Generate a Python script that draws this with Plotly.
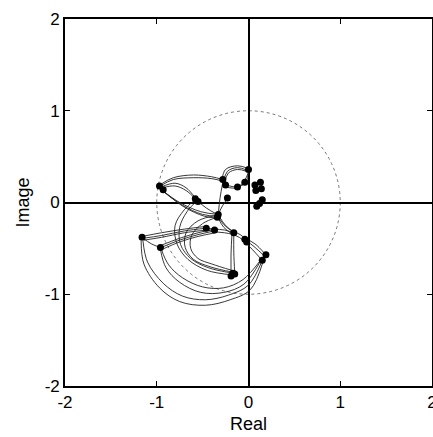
import plotly.graph_objects as go

# ---- data (real, imaginary parts) ----
curves = {
    "A1": [(-0.97, 0.19), (-0.82, 0.27), (-0.6, 0.30), (-0.4, 0.28), (-0.28, 0.25)],
    "A2": [(-0.96, 0.18), (-0.82, 0.25), (-0.6, 0.27), (-0.4, 0.26), (-0.27, 0.23)],
    "A3": [(-0.95, 0.17), (-0.8, 0.21), (-0.68, 0.16), (-0.58, 0.05)],
    "A4": [(-0.94, 0.16), (-0.8, 0.18), (-0.68, 0.13), (-0.57, 0.03)],
    "B1": [(-0.95, 0.14), (-0.75, 0.0), (-0.52, -0.10), (-0.33, -0.13)],
    "B2": [(-0.93, 0.12), (-0.72, -0.03), (-0.5, -0.13), (-0.33, -0.15)],
    "B3": [(-0.91, 0.11), (-0.7, -0.05), (-0.48, -0.15), (-0.34, -0.17)],
    "B4": [(-0.57, 0.03), (-0.46, -0.06), (-0.34, -0.13)],
    "C1": [(-0.29, 0.24), (-0.25, 0.36), (-0.12, 0.40), (0.0, 0.37)],
    "C2": [(-0.27, 0.23), (-0.23, 0.34), (-0.12, 0.38), (-0.01, 0.35)],
    "C3": [(-0.26, 0.21), (-0.22, 0.32), (-0.12, 0.36), (-0.02, 0.34)],
    "C4": [(0.0, 0.36), (-0.03, 0.22), (-0.12, 0.17), (-0.24, 0.19)],
    "C5": [(0.01, 0.35), (-0.05, 0.23), (-0.13, 0.16), (-0.25, 0.17)],
    "D1": [(0.08, 0.13), (0.14, 0.15), (0.13, 0.22), (0.07, 0.20), (0.08, 0.13)],
    "E1": [(0.15, 0.03), (0.12, -0.01), (0.09, -0.04)],
    "F1": [(-0.28, 0.22), (-0.31, 0.05), (-0.33, -0.13)],
    "F2": [(-0.33, -0.13), (-0.28, -0.03), (-0.23, 0.04)],
    "G1": [(-0.34, -0.14), (-0.27, -0.24), (-0.17, -0.32)],
    "G2": [(-0.32, -0.15), (-0.25, -0.25), (-0.15, -0.33)],
    "G3": [(-0.33, -0.17), (-0.27, -0.27), (-0.17, -0.35)],
    "H1": [(-1.16, -0.37), (-0.95, -0.33), (-0.7, -0.29), (-0.46, -0.26)],
    "H2": [(-1.15, -0.39), (-0.95, -0.36), (-0.7, -0.31), (-0.46, -0.28)],
    "H3": [(-1.14, -0.41), (-0.95, -0.38), (-0.7, -0.33), (-0.45, -0.30)],
    "H4": [(-1.16, -0.38), (-1.06, -0.45), (-0.96, -0.49)],
    "I1": [(-0.96, -0.47), (-0.75, -0.39), (-0.55, -0.33), (-0.37, -0.29)],
    "I2": [(-0.95, -0.49), (-0.75, -0.41), (-0.55, -0.35), (-0.37, -0.31)],
    "I3": [(-0.94, -0.51), (-0.75, -0.43), (-0.55, -0.37), (-0.36, -0.33)],
    "J1": [(-0.46, -0.28), (-0.37, -0.29), (-0.26, -0.30), (-0.16, -0.33)],
    "J2": [(-0.45, -0.30), (-0.36, -0.32), (-0.26, -0.33), (-0.16, -0.35)],
    "K1": [(-0.16, -0.32), (-0.09, -0.35), (-0.03, -0.40)],
    "K2": [(-0.17, -0.35), (-0.10, -0.38), (-0.04, -0.43)],
    "L1": [(-0.04, -0.39), (0.07, -0.45), (0.18, -0.56)],
    "L2": [(-0.03, -0.41), (0.06, -0.48), (0.17, -0.58)],
    "L3": [(-0.04, -0.43), (0.04, -0.51), (0.14, -0.62)],
    "M1": [(-0.16, -0.33), (-0.16, -0.55), (-0.15, -0.77)],
    "M2": [(-0.18, -0.34), (-0.19, -0.55), (-0.19, -0.79)],
    "N1": [(-1.17, -0.42), (-1.14, -0.67), (-0.97, -0.93), (-0.75, -1.08),
           (-0.47, -1.12), (-0.2, -1.06), (0.02, -0.95), (0.16, -0.64)],
    "N2": [(-1.15, -0.42), (-1.1, -0.65), (-0.93, -0.88), (-0.72, -1.02),
           (-0.47, -1.06), (-0.22, -1.01), (0.0, -0.9), (0.15, -0.63)],
    "N3": [(-0.96, -0.51), (-0.9, -0.71), (-0.75, -0.87), (-0.52, -0.98),
           (-0.27, -0.98), (-0.05, -0.89), (0.13, -0.64)],
    "N4": [(-0.95, -0.51), (-0.87, -0.68), (-0.72, -0.82), (-0.5, -0.92),
           (-0.27, -0.93), (-0.06, -0.84), (0.13, -0.63)],
    "O1": [(-0.58, 0.03), (-0.7, -0.08), (-0.8, -0.25), (-0.78, -0.45),
           (-0.66, -0.62), (-0.45, -0.74), (-0.17, -0.79)],
    "O2": [(-0.56, 0.02), (-0.67, -0.10), (-0.75, -0.27), (-0.74, -0.46),
           (-0.63, -0.61), (-0.44, -0.71), (-0.17, -0.77)],
    "O3": [(-0.35, -0.14), (-0.55, -0.2), (-0.68, -0.33), (-0.69, -0.49),
           (-0.6, -0.62), (-0.42, -0.70), (-0.17, -0.76)],
    "O4": [(-0.34, -0.16), (-0.5, -0.23), (-0.62, -0.36), (-0.63, -0.5),
           (-0.55, -0.61), (-0.4, -0.67), (-0.18, -0.74)],
}

dots_re = [-0.97, -0.93, -0.58, -0.55, -0.33, -0.34, -0.28, -0.25, -0.12, -0.04,
           0.0, -0.23, 0.08, 0.14, 0.13, 0.07, 0.15, 0.09, 0.12, -1.16,
           -0.96, -0.46, -0.37, -0.16, -0.04, -0.02, 0.19, 0.15, -0.17, -0.19, -0.15]
dots_im = [0.18, 0.14, 0.04, 0.01, -0.13, -0.16, 0.25, 0.19, 0.17, 0.22,
           0.36, 0.05, 0.13, 0.15, 0.22, 0.19, 0.03, -0.04, -0.01, -0.38,
           -0.49, -0.28, -0.30, -0.33, -0.40, -0.43, -0.57, -0.63, -0.77, -0.80, -0.78]

tick_vals = [-2, -1, 0, 1, 2]
tick_text = ["-2", "-1", "0", "1", "2"]

fig = go.Figure()

for name, pts in curves.items():
    fig.add_trace(go.Scatter(
        x=[p[0] for p in pts], y=[p[1] for p in pts],
        mode="lines", line=dict(color="#222222", width=0.9, shape="spline"),
        showlegend=False, hoverinfo="skip"))

fig.add_trace(go.Scatter(
    x=dots_re, y=dots_im, mode="markers",
    marker=dict(color="black", size=7), showlegend=False, hoverinfo="skip"))

# unit circle
fig.add_shape(type="circle", xref="x", yref="y", x0=-1, y0=-1, x1=1, y1=1,
              line=dict(color="#555555", width=0.8, dash="dot"), layer="below")

axis_common = dict(
    range=[-2, 2], tickmode="array", tickvals=tick_vals, ticktext=tick_text,
    ticks="inside", ticklen=5, tickcolor="black", showline=True, linecolor="black",
    linewidth=1.6, mirror="ticks", showgrid=False, zeroline=True,
    zerolinecolor="black", zerolinewidth=1.6, automargin=False,
    ticklabeloverflow="allow",
    tickfont=dict(size=17, color="black"),
)

fig.update_layout(
    template="none",
    width=433, height=437,
    margin=dict(l=65, r=1, t=19, b=51, autoexpand=False),
    paper_bgcolor="white", plot_bgcolor="white",
    font=dict(family="Liberation Sans, Arial, sans-serif", size=17, color="black"),
    xaxis=dict(**axis_common, title=dict(text="Real", standoff=6, font=dict(size=18))),
    yaxis=dict(**axis_common, title=dict(text="Image", standoff=10, font=dict(size=18))),
)

fig.write_html(
    "out.html",
    config={"responsive": False, "displayModeBar": False},
    post_script="document.body.style.margin='0';document.body.style.overflow='hidden';",
)
